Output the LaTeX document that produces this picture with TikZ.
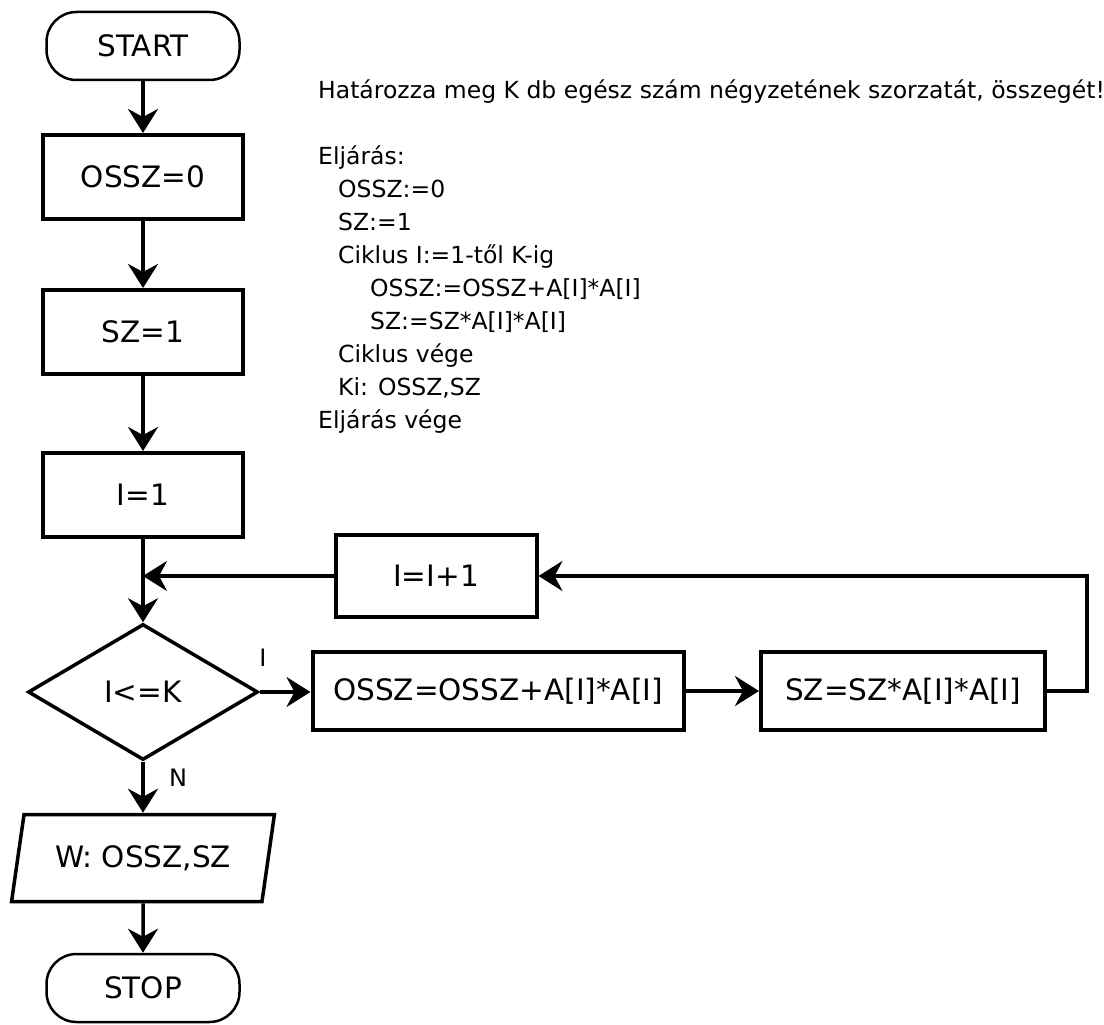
\documentclass[tikz,border=0pt]{standalone}
\usepackage{fontspec}
\setmainfont{DejaVu Sans}
\usetikzlibrary{shapes.geometric,arrows.meta,positioning}

\tikzset{
    boxfont/.style={font=\fontsize{29.5}{32}\selectfont},
    proc/.style={draw, line width=4pt, inner sep=0pt, boxfont},
    term/.style={draw, line width=2.5pt, rounded corners=30pt, minimum width=193pt, minimum height=68pt, inner sep=0pt, boxfont},
    decide/.style={draw, diamond, aspect=1.7, line width=3.5pt, minimum width=230pt, minimum height=136pt, inner sep=0pt, boxfont},
    outbox/.style={draw, trapezium, trapezium left angle=70, trapezium right angle=110, trapezium stretches=true, line width=3.5pt, minimum width=263pt, minimum height=87pt, inner sep=0pt, boxfont},
    code/.style={inner sep=0pt, anchor=base west, font=\fontsize{23.5}{26}\selectfont},
    lbl/.style={inner sep=0pt, font=\fontsize{24}{26}\selectfont},
    flow/.style={line width=3.5pt, -{Stealth[length=24pt, width=30pt, inset=8pt]}}
}

\begin{document}
\begin{tikzpicture}[x=1pt, y=-1pt]
    \useasboundingbox (0,0) rectangle (1104,1025);

    % Main column
    \node[term] (start) at (143,46) {START};
    \node[proc, minimum width=200pt, minimum height=84pt] (ossz0) at (143,177) {OSSZ=0};
    \node[proc, minimum width=200pt, minimum height=84pt] (sz1) at (143,332) {SZ=1};
    \node[proc, minimum width=200pt, minimum height=84pt] (i1) at (143,495) {I=1};
    \node[decide] (cond) at (143,692) {I<=K};
    \node[outbox] (out) at (143,858) {W: OSSZ,SZ};
    \node[term] (stop) at (143,988) {STOP};

    % Loop body
    \node[proc, minimum width=371pt, minimum height=78pt] (sum) at (498,691) {OSSZ=OSSZ+A[I]*A[I]};
    \node[proc, minimum width=284pt, minimum height=78pt] (prod) at (903,691) {SZ=SZ*A[I]*A[I]};
    \node[proc, minimum width=201pt, minimum height=82pt] (incr) at (436,576) {I=I+1};
    \coordinate (merge) at (cond.north |- incr.west);

    % Branch labels
    \node[lbl] (yes) at (263,658) {I};
    \node[lbl] (no) at (178,778) {N};

    % Connectors
    \draw[flow] (start) -- (ossz0);
    \draw[flow] (ossz0) -- (sz1);
    \draw[flow] (sz1) -- (i1);
    \draw[flow] (i1) -- (cond);
    \draw[flow] (incr) -- (merge);
    \draw[flow] (cond.east) -- (cond.east -| sum.west);
    \draw[flow] (sum) -- (prod);
    \draw[flow] (prod.east) -- ++(40,0) |- (incr);
    \draw[flow] (cond) -- (out);
    \draw[flow] (out) -- (stop);

    % Task and procedure text
    \node[code] (title) at (318,99) {Határozza meg K db egész szám négyzetének szorzatát, összegét!};
    \foreach \dx/\txt [count=\i] in {0/Eljárás:, 20/OSSZ:=0, 20/SZ:=1, 20/Ciklus I:=1-től K-ig,
        52/OSSZ:=OSSZ+A[I]*A[I], 52/SZ:=SZ*A[I]*A[I], 20/Ciklus vége, 20/{Ki: OSSZ,SZ}, 0/Eljárás vége}
        \node[code] (line\i) at ({318+\dx},{131+33*\i}) {\txt};
\end{tikzpicture}
\end{document}
